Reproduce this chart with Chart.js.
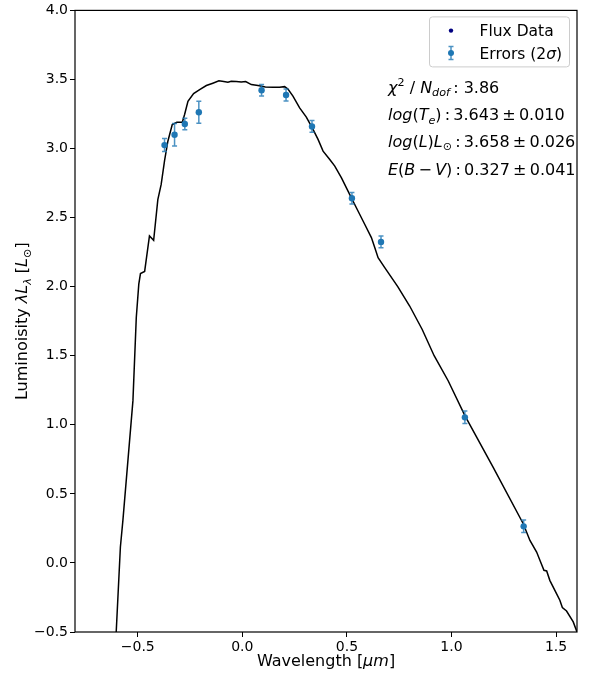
<!DOCTYPE html>
<html><head><meta charset="utf-8">
<style>html,body{margin:0;padding:0;background:#fff}#wrap{width:595px;height:677px;position:relative}</style>
</head><body><div id="wrap"><canvas id="c" width="595" height="677"></canvas></div>
<script src="https://cdn.jsdelivr.net/npm/chart.js@4.4.0/dist/chart.umd.min.js"></script>
<script>
// ---- data ----
const modelX = [-0.603,-0.583,-0.571,-0.523,-0.507,-0.495,-0.487,-0.467,-0.444,-0.424,-0.404,-0.388,-0.372,-0.356,-0.335,-0.313,-0.287,-0.276,-0.260,-0.233,-0.204,-0.172,-0.141,-0.112,-0.089,-0.069,-0.053,-0.029,-0.005,0.016,0.043,0.075,0.110,0.146,0.178,0.202,0.218,0.242,0.274,0.306,0.338,0.362,0.386,0.418,0.442,0.474,0.513,0.553,0.585,0.617,0.633,0.649,0.680,0.743,0.800,0.860,0.917,0.984,1.064,1.200,1.343,1.375,1.407,1.426,1.442,1.455,1.470,1.502,1.518,1.530,1.550,1.582,1.600];
const modelY = [-0.50,0.115,0.308,1.175,1.777,2.018,2.095,2.110,2.367,2.336,2.630,2.740,2.910,3.053,3.174,3.190,3.190,3.246,3.342,3.398,3.427,3.456,3.473,3.490,3.485,3.480,3.487,3.485,3.482,3.485,3.463,3.456,3.446,3.444,3.444,3.448,3.430,3.379,3.294,3.227,3.138,3.066,2.981,2.921,2.873,2.788,2.668,2.548,2.452,2.355,2.283,2.210,2.140,2.000,1.860,1.690,1.500,1.319,1.066,0.690,0.284,0.163,0.079,0.007,-0.053,-0.058,-0.126,-0.222,-0.270,-0.323,-0.348,-0.427,-0.500];
const fluxX = [-0.372,-0.324,-0.275,-0.208,0.092,0.209,0.333,0.524,0.663,1.064,1.345];
const fluxY = [3.025,3.100,3.178,3.263,3.422,3.388,3.160,2.640,2.324,1.054,0.265];
const fluxErr = [0.047,0.082,0.042,0.080,0.042,0.043,0.043,0.042,0.042,0.045,0.045];
const xTicks = [-0.5,0.0,0.5,1.0,1.5];
const yTicks = [-0.5,0.0,0.5,1.0,1.5,2.0,2.5,3.0,3.5,4.0];
const xRange = [-0.8, 1.6];
const yRange = [-0.5, 4.0];
const legendLabels = ['Flux Data', 'Errors (2σ)'];
const fitLines = [
  [{t:'χ',i:1},{t:'2',sup:1},{t:' / '},{t:'N',i:1},{t:'dof',i:1,sub:1},{t:'\u2009: 3.86'}],
  [{t:'log',i:1},{t:'('},{t:'T',i:1},{t:'e',i:1,sub:1},{t:')'},{t:'\u2009:\u20093.643\u2009±\u20090.010'}],
  [{t:'log',i:1},{t:'('},{t:'L',i:1},{t:')'},{t:'L',i:1},{t:'⊙',sub:1},{t:'\u2009:\u20093.658\u2009±\u20090.026'}],
  [{t:'E',i:1},{t:'('},{t:'B',i:1},{t:'\u2009−\u2009'},{t:'V',i:1},{t:')'},{t:'\u2009:\u20090.327\u2009±\u20090.041'}]
];
const xTitle = [{t:'Wavelength ['},{t:'μm',i:1},{t:']'}];
const yTitle = [{t:'Luminoisity '},{t:'λL',i:1},{t:'λ',i:1,sub:1},{t:' ['},{t:'L',i:1},{t:'⊙',sub:1},{t:']'}];

const FONT = '"DejaVu Sans", sans-serif';
const BLUE = '#1f77b4';

function drawRich(ctx, x, y, segs, size, align) {
  let total = 0;
  const parts = segs.map(s => {
    const fs = (s.sub || s.sup) ? size * 0.7 : size;
    const font = (s.i ? 'italic ' : '') + fs + 'px ' + FONT;
    ctx.font = font;
    const w = ctx.measureText(s.t).width;
    total += w;
    return {s, font, w};
  });
  let cx = align === 'center' ? x - total / 2 : x;
  ctx.textAlign = 'left';
  ctx.textBaseline = 'alphabetic';
  for (const p of parts) {
    ctx.font = p.font;
    let dy = 0;
    if (p.s.sub) dy = size * 0.22;
    if (p.s.sup) dy = -size * 0.4;
    ctx.fillText(p.s.t, cx, y + dy);
    cx += p.w;
  }
  return total;
}

const errorBars = {
  id: 'errorBars',
  beforeDatasetDraw(chart, args) {
    if (args.index !== 2) return;
    const ctx = chart.ctx, xs = chart.scales.x, ys = chart.scales.y;
    ctx.save();
    ctx.strokeStyle = BLUE;
    ctx.globalAlpha = 0.8;
    ctx.lineWidth = 1.5;
    for (let k = 0; k < fluxX.length; k++) {
      const px = xs.getPixelForValue(fluxX[k]);
      const p1 = ys.getPixelForValue(fluxY[k] + fluxErr[k]);
      const p2 = ys.getPixelForValue(fluxY[k] - fluxErr[k]);
      ctx.beginPath();
      ctx.moveTo(px, p1); ctx.lineTo(px, p2);
      ctx.moveTo(px - 2.5, p1); ctx.lineTo(px + 2.5, p1);
      ctx.moveTo(px - 2.5, p2); ctx.lineTo(px + 2.5, p2);
      ctx.stroke();
    }
    ctx.restore();
  }
};

const decorations = {
  id: 'decorations',
  afterDraw(chart) {
    const ctx = chart.ctx, a = chart.chartArea;
    ctx.save();
    // frame
    ctx.strokeStyle = '#000';
    ctx.lineWidth = 1.2;
    ctx.strokeRect(a.left, a.top, a.right - a.left, a.bottom - a.top);
    ctx.fillStyle = '#000';
    // axis titles
    drawRich(ctx, (a.left + a.right) / 2, 666, xTitle, 16, 'center');
    ctx.save();
    ctx.translate(27, (a.top + a.bottom) / 2);
    ctx.rotate(-Math.PI / 2);
    drawRich(ctx, 0, 0, yTitle, 16, 'center');
    ctx.restore();
    // legend
    const lx = a.right - 147.5, ly = a.top + 6.5, lw = 140, lh = 50;
    ctx.beginPath();
    ctx.roundRect(lx, ly, lw, lh, 3);
    ctx.fillStyle = 'rgba(255,255,255,0.8)';
    ctx.fill();
    ctx.strokeStyle = '#cccccc';
    ctx.lineWidth = 1;
    ctx.stroke();
    const mx = lx + 21.5;
    ctx.fillStyle = '#000080';
    ctx.beginPath(); ctx.arc(mx, ly + 13.7, 2.2, 0, Math.PI * 2); ctx.fill();
    ctx.strokeStyle = BLUE; ctx.globalAlpha = 0.8; ctx.lineWidth = 1.5;
    const ey = ly + 36;
    ctx.beginPath();
    ctx.moveTo(mx, ey - 6.5); ctx.lineTo(mx, ey + 6.5);
    ctx.moveTo(mx - 2.5, ey - 6.5); ctx.lineTo(mx + 2.5, ey - 6.5);
    ctx.moveTo(mx - 2.5, ey + 6.5); ctx.lineTo(mx + 2.5, ey + 6.5);
    ctx.stroke();
    ctx.globalAlpha = 1;
    ctx.fillStyle = BLUE;
    ctx.beginPath(); ctx.arc(mx, ey, 3, 0, Math.PI * 2); ctx.fill();
    ctx.fillStyle = '#000';
    drawRich(ctx, lx + 50, ly + 18.8, [{t:legendLabels[0]}], 15.5, 'left');
    drawRich(ctx, lx + 50, ly + 41.6, [{t:'Errors (2'},{t:'σ',i:1},{t:')'}], 15.5, 'left');
    // fit annotation
    const base = [92.7, 120, 146.7, 175];
    fitLines.forEach((segs, k) => drawRich(ctx, a.right - 189, base[k], segs, 16, 'left'));
    ctx.restore();
  }
};

const fmt = v => Number(v).toFixed(1).replace('-', '\u2212');

new Chart(document.getElementById('c'), {
  type: 'scatter',
  data: {
    datasets: [
      { label: 'Model', data: modelX.map((x, i) => ({x, y: modelY[i]})), showLine: true,
        borderColor: '#000', borderWidth: 1.5, pointRadius: 0, fill: false, order: 3, tension: 0 },
      { label: legendLabels[0], data: fluxX.map((x, i) => ({x, y: fluxY[i]})),
        backgroundColor: '#000080', borderWidth: 0, pointRadius: 2, order: 2 },
      { label: legendLabels[1], data: fluxX.map((x, i) => ({x, y: fluxY[i]})),
        backgroundColor: BLUE, borderColor: BLUE, borderWidth: 0, pointRadius: 3.2, order: 1 }
    ]
  },
  options: {
    responsive: false,
    animation: false,
    devicePixelRatio: 1,
    layout: { padding: { left: 0, right: 18, top: 9, bottom: 0 } },
    plugins: { legend: { display: false }, tooltip: { enabled: false } },
    scales: {
      x: {
        type: 'linear', min: xRange[0], max: xRange[1],
        afterBuildTicks: s => { s.ticks = xTicks.map(v => ({value: v})); },
        afterFit: s => { s.height = 45; },
        grid: { display: true, drawOnChartArea: false, drawTicks: true, tickLength: 5, color: '#000' },
        border: { display: false },
        ticks: { callback: fmt, color: '#000', font: { family: FONT, size: 14 }, padding: 2, maxRotation: 0, autoSkip: false }
      },
      y: {
        type: 'linear', min: yRange[0], max: yRange[1],
        afterBuildTicks: s => { s.ticks = yTicks.map(v => ({value: v})); },
        afterFit: s => { s.width = 75; },
        grid: { display: true, drawOnChartArea: false, drawTicks: true, tickLength: 5, color: '#000' },
        border: { display: false },
        ticks: { callback: fmt, color: '#000', font: { family: FONT, size: 14 }, padding: 2, autoSkip: false }
      }
    }
  },
  plugins: [errorBars, decorations]
});
</script>
</body></html>
